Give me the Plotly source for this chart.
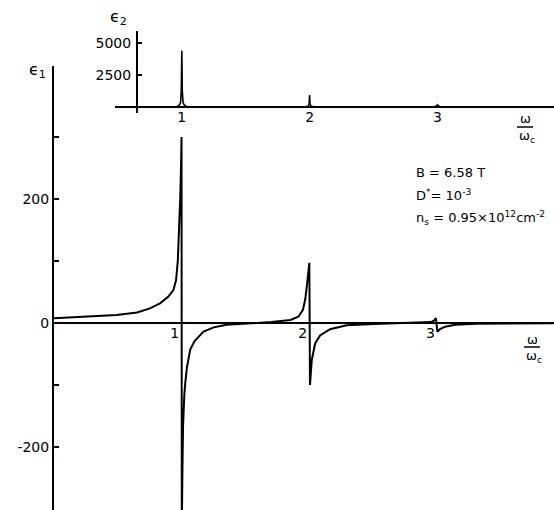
import plotly.graph_objects as go

# ---------------- data ----------------
# epsilon_1 (real part) vs omega/omega_c
eps1_omega = [0.0, 0.2, 0.35, 0.49, 0.65, 0.75, 0.83, 0.895, 0.934, 0.955, 0.969, 0.979,
              0.987, 0.994, 0.998, 1.0, 1.003, 1.006, 1.01, 1.014, 1.02, 1.027, 1.04,
              1.066, 1.1, 1.17, 1.25, 1.35, 1.5, 1.6, 1.7, 1.85, 1.912, 1.947, 1.965,
              1.978, 1.99, 1.998, 2.003, 2.008, 2.017, 2.043, 2.082, 2.16, 2.29, 2.5,
              2.8, 2.95, 2.975, 2.988, 3.0, 3.02, 3.06, 3.14, 3.3, 3.6, 3.91]
eps1 = [7.5, 9.3, 11, 12.9, 17, 23.6, 31.7, 42.5, 53, 69, 101, 145,
        198, 252, 300, -330, -300, -220, -165, -138, -115, -97, -72,
        -43, -29, -14, -7, -3, -1, 0, 1.5, 4.8, 10, 21, 37,
        58.6, 85, 97, -100, -82, -60, -33, -20, -10, -3.6, -1.5,
        0, 1.5, 4, 8, -14, -10, -6, -3, -1.2, -0.5, -0.3]

# epsilon_2 (imaginary part) vs omega/omega_c  (inset)
eps2_omega = [0.48, 0.96, 0.98, 0.99, 0.996, 1.0, 1.004, 1.01, 1.02, 1.04,
              1.97, 1.99, 1.997, 2.0, 2.003, 2.01, 2.03,
              2.98, 2.995, 3.0, 3.005, 3.02, 3.91]
eps2 = [0, 0, 120, 300, 1200, 4375, 1200, 300, 120, 0,
        0, 60, 250, 920, 250, 60, 0,
        0, 80, 150, 80, 0, 0]

eps1_ticks = [-300, -200, -100, 0, 100, 200, 300]
eps1_ticktext = ["", "-200", "", "0", "", "200", ""]
eps2_ticks = [2500, 5000]
eps2_ticktext = ["2500", "5000"]
omega_ticks = [1, 2, 3]
omega_ticktext = ["1", "2", "3"]

# ---------------- layout helpers ----------------
W, H = 554, 510
L = 54
PW = W - L


def px(xp):
    return (xp - L) / PW


def py(yp):
    return (H - yp) / H


FONT = "DejaVu Sans"
BLACK = "black"

fig = go.Figure()
fig.add_trace(go.Scatter(x=eps1_omega, y=eps1, mode="lines",
                         line=dict(color=BLACK, width=2), xaxis="x", yaxis="y",
                         showlegend=False, hoverinfo="skip"))
fig.add_trace(go.Scatter(x=eps2_omega, y=eps2, mode="lines",
                         line=dict(color=BLACK, width=1.6), xaxis="x2", yaxis="y2",
                         showlegend=False, hoverinfo="skip"))

xmax = PW / 127.8

fig.update_layout(
    width=W, height=H,
    margin=dict(l=L, r=0, t=0, b=0, pad=0),
    paper_bgcolor="white", plot_bgcolor="white",
    font=dict(family=FONT, size=14, color=BLACK),
    showlegend=False,
    xaxis=dict(range=[0, xmax], domain=[0, 1], anchor="free", position=py(323),
               showline=True, linecolor=BLACK, linewidth=2, showgrid=False,
               zeroline=False, ticks="", tickvals=omega_ticks,
               ticktext=omega_ticktext, ticklabelshift=-7, ticklabelstandoff=-3,
               tickfont=dict(family=FONT, size=14, color=BLACK), automargin=False),
    yaxis=dict(range=[(323 - 510) / 0.62, (323 - 66) / 0.62], domain=[0, py(66)],
               anchor="x", showline=True, linecolor=BLACK, linewidth=2,
               showgrid=False, zeroline=False, ticks="inside", ticklen=5,
               tickwidth=1.5, tickcolor=BLACK, tickvals=eps1_ticks,
               ticktext=eps1_ticktext,
               tickfont=dict(family=FONT, size=14, color=BLACK), automargin=False),
    xaxis2=dict(range=[(115 - L) / 127.8, xmax], domain=[px(115), 1],
                anchor="free", position=py(106.7), showline=True,
                linecolor=BLACK, linewidth=2, showgrid=False, zeroline=False,
                ticks="", tickvals=omega_ticks, ticktext=omega_ticktext,
                ticklabelstandoff=-3,
                tickfont=dict(family=FONT, size=14, color=BLACK), automargin=False),
    yaxis2=dict(range=[(106.7 - 113) * 78.125, (106.7 - 31) * 78.125],
                domain=[py(113), py(31)], anchor="free", position=px(137),
                showline=True, linecolor=BLACK, linewidth=2, showgrid=False,
                zeroline=False, ticks="inside", ticklen=4, tickwidth=1.5,
                tickcolor=BLACK, tickvals=eps2_ticks, ticktext=eps2_ticktext,
                ticklabelstandoff=2,
                tickfont=dict(family=FONT, size=14, color=BLACK), automargin=False),
)

ann = []


def add_text(text, xp, yp, size=14, xanchor="center"):
    ann.append(dict(text=text, x=px(xp), y=py(yp), xref="paper", yref="paper",
                    showarrow=False, xanchor=xanchor, yanchor="middle",
                    font=dict(family=FONT, size=size, color=BLACK)))


add_text("ϵ<sub>1</sub>", 37, 71, size=16)
add_text("ϵ<sub>2</sub>", 118, 18, size=16)
# omega/omega_c labels (inset and main)
add_text("ω", 525, 119, size=13)
add_text("ω<sub>c</sub>", 527, 136, size=13)
add_text("ω", 532, 339, size=13)
add_text("ω<sub>c</sub>", 534, 356, size=13)
# parameter block
add_text("B = 6.58 T", 414, 172, size=13, xanchor="left")
add_text("D<sup>*</sup>= 10<sup>-3</sup>", 414, 195, size=13, xanchor="left")
add_text("n<sub>s</sub> = 0.95×10<sup>12</sup>cm<sup>-2</sup>", 414, 218, size=13,
         xanchor="left")
fig.update_layout(annotations=ann)

shapes = [
    dict(type="line", xref="paper", yref="paper", x0=px(517), x1=px(533),
         y0=py(127), y1=py(127), line=dict(color=BLACK, width=1.5)),
    dict(type="line", xref="paper", yref="paper", x0=px(524), x1=px(540),
         y0=py(347), y1=py(347), line=dict(color=BLACK, width=1.5)),
]
fig.update_layout(shapes=shapes)

fig.write_html("out.html", config={"displayModeBar": False},
               post_script="document.body.style.margin='0px';")
